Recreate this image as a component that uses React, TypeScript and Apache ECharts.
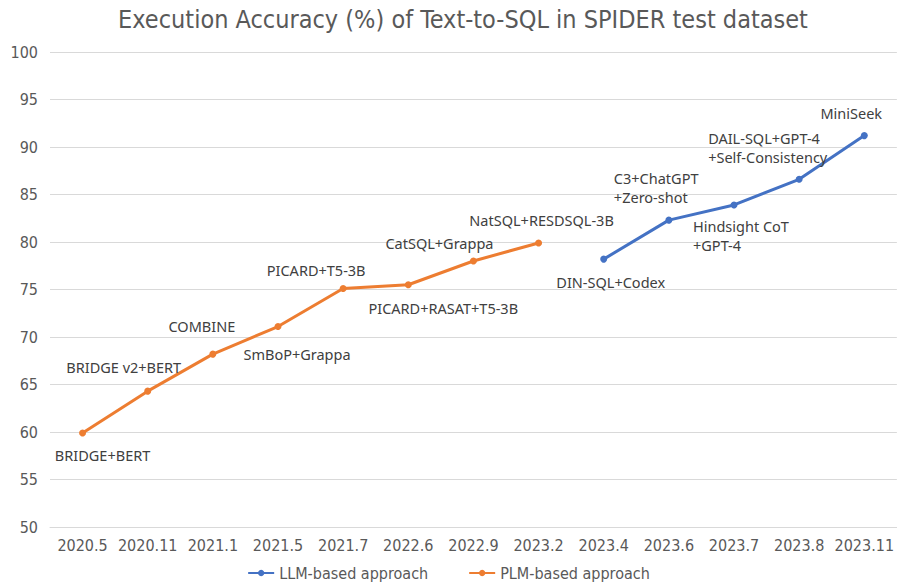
import React, { useEffect, useRef } from "react";
import * as echarts from "echarts";

const categories = ["2020.5", "2020.11", "2021.1", "2021.5", "2021.7", "2022.6", "2022.9", "2023.2", "2023.4", "2023.6", "2023.7", "2023.8", "2023.11"];
const llmValues = [null, null, null, null, null, null, null, null, 78.2, 82.3, 83.9, 86.6, 91.2];
const plmValues = [59.9, 64.3, 68.2, 71.1, 75.1, 75.5, 78.0, 79.9, null, null, null, null, null];
const pointNames = [
  "BRIDGE+BERT", "BRIDGE v2+BERT", "COMBINE", "SmBoP+Grappa", "PICARD+T5-3B", "PICARD+RASAT+T5-3B",
  "CatSQL+Grappa", "NatSQL+RESDSQL-3B", "DIN-SQL+Codex", "C3+ChatGPT\n+Zero-shot", "Hindsight CoT\n+GPT-4",
  "DAIL-SQL+GPT-4\n+Self-Consistency", "MiniSeek",
];
// label offsets [dx, dy, align]
const labelOffsets: [number, number, string][] = [
  [20, 22, "center"], [-24, -24, "center"], [-11, -28, "center"], [19, 27, "center"],
  [-27, -19, "center"], [35, 23, "center"], [-34, -18, "center"], [3, -23, "center"],
  [7, 23, "center"], [-55, -33, "left"], [-41, 31, "left"], [-91, -32, "left"], [-13, -23, "center"],
];

const axisFont = "'Liberation Sans Narrow', 'DejaVu Sans Condensed', sans-serif";
const labelFont = "'Noto Sans', sans-serif";

function buildData(vals: (number | null)[]) {
  return vals.map((v, i) => {
    if (v === null) return null;
    const [dx, dy, align] = labelOffsets[i];
    return {
      value: v,
      label: {
        show: true,
        formatter: pointNames[i],
        position: "inside",
        offset: [dx, dy],
        align,
        verticalAlign: "middle",
        color: "#404040",
        fontSize: 14.5,
        fontFamily: labelFont,
        lineHeight: 19,
      },
    };
  });
}

export default function App() {
  const ref = useRef<HTMLDivElement>(null);
  useEffect(() => {
    if (!ref.current) return;
    const chart = echarts.init(ref.current, null, { renderer: "svg" });
    chart.setOption({
      animation: false,
      title: {
        text: "Execution Accuracy (%) of Text-to-SQL in SPIDER test dataset",
        left: 458,
        top: 2,
        textAlign: "center",
        textStyle: { fontFamily: axisFont, fontSize: 25, fontWeight: "normal", color: "#595959" },
      },
      legend: {
        bottom: 2,
        left: "center",
        itemWidth: 26,
        itemHeight: 8,
        itemGap: 40,
        textStyle: { fontFamily: axisFont, fontSize: 16, color: "#595959" },
        data: ["LLM-based approach", "PLM-based approach"],
      },
      grid: { left: 50, top: 52, width: 848, height: 475, containLabel: false },
      xAxis: {
        type: "category",
        data: categories,
        boundaryGap: true,
        axisLine: { lineStyle: { color: "#d9d9d9", width: 1 } },
        axisTick: { show: false },
        axisLabel: { fontFamily: axisFont, fontSize: 16, color: "#595959", margin: 10, interval: 0 },
      },
      yAxis: {
        type: "value",
        min: 50,
        max: 100,
        interval: 5,
        axisLine: { show: false },
        axisTick: { show: false },
        splitLine: { lineStyle: { color: "#d9d9d9", width: 1 } },
        axisLabel: { fontFamily: axisFont, fontSize: 16, color: "#595959", margin: 12 },
      },
      series: [
        {
          name: "LLM-based approach",
          type: "line",
          data: buildData(llmValues),
          symbol: "circle",
          symbolSize: 7,
          lineStyle: { color: "#4472C4", width: 3 },
          itemStyle: { color: "#4472C4" },
        },
        {
          name: "PLM-based approach",
          type: "line",
          data: buildData(plmValues),
          symbol: "circle",
          symbolSize: 7,
          lineStyle: { color: "#ED7D31", width: 3 },
          itemStyle: { color: "#ED7D31" },
        },
      ],
    });
    return () => chart.dispose();
  }, []);
  return <div ref={ref} style={{ width: 897, height: 588, position: "absolute", left: 0, top: 0 }} />;
}
